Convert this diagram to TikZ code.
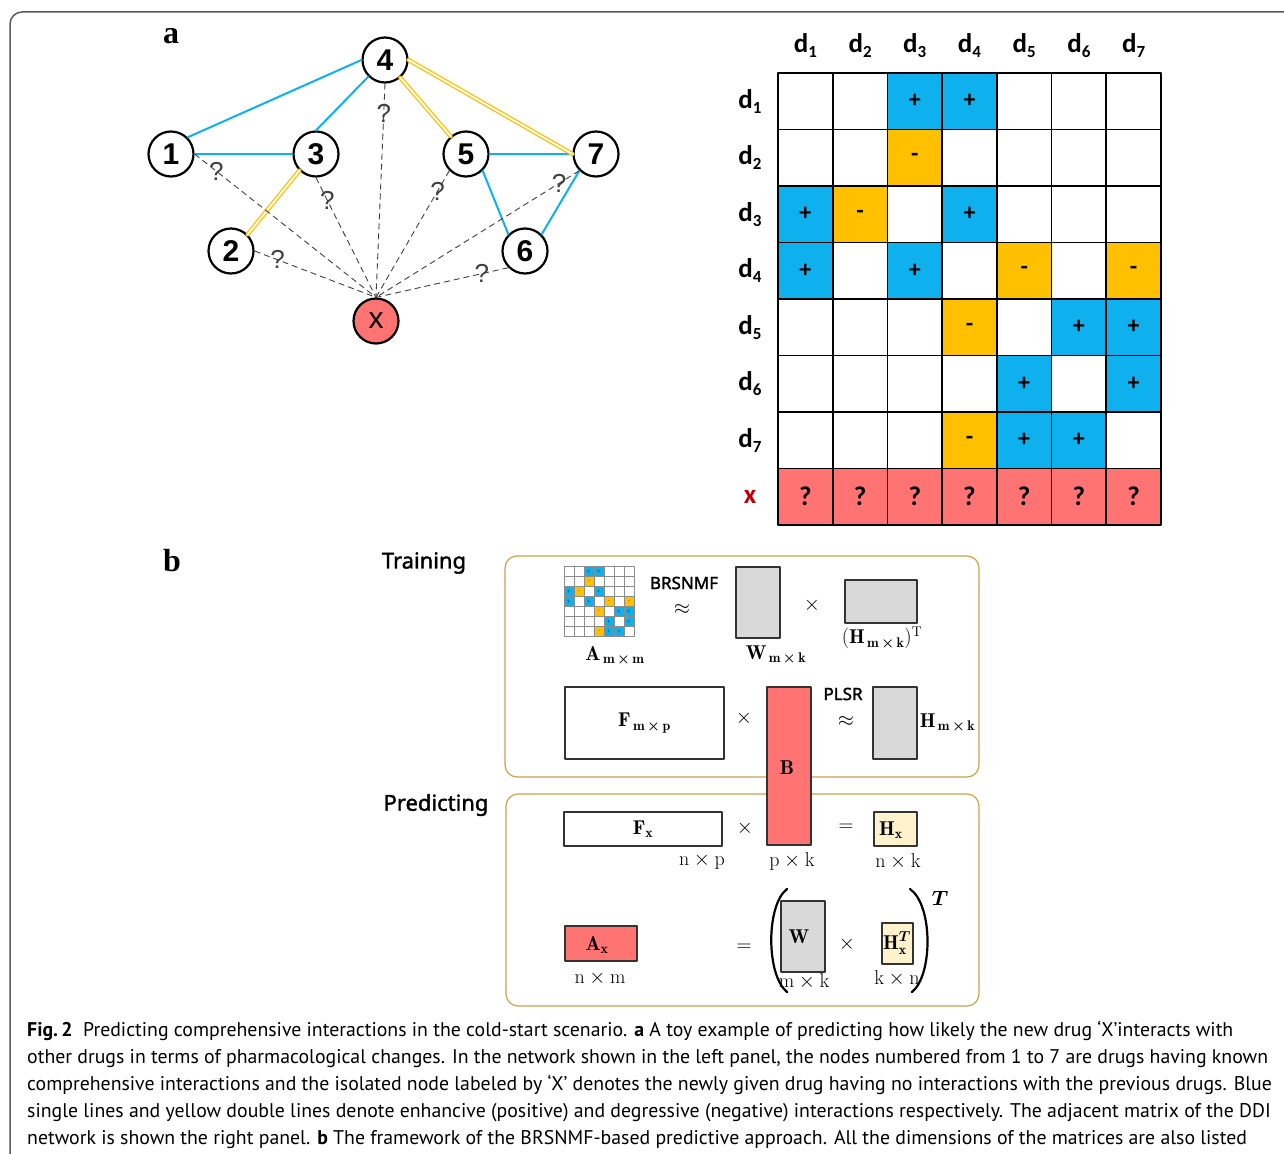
\documentclass[tikz,border=0pt]{standalone}
\usepackage{fontspec}
\usepackage{amsmath}
\usetikzlibrary{positioning}
\newfontfamily\calibri{Carlito}
\newfontfamily\arialf{Liberation Sans}
\newfontfamily\timesf{Liberation Serif}
\newfontfamily\capfont{PT Sans}
\newfontfamily\labfont{Noto Sans}[FakeBold=1.6]
\definecolor{ddiblue}{HTML}{0EB1EE}
\definecolor{ddiyellow}{HTML}{FFC000}
\definecolor{ddired}{HTML}{FF7373}
\definecolor{matgray}{HTML}{D9D9D9}
\definecolor{hxyellow}{HTML}{FFF2CC}
\definecolor{boxgold}{HTML}{C9A24C}
\definecolor{xred}{HTML}{C00000}
\newcommand{\fs}[1]{\fontsize{#1}{#1}\selectfont}
\newcommand{\dlab}[1]{d\raisebox{-5pt}{\fs{17}#1}}
\newcommand{\msub}[3]{$\mathbf{#1}_{\,\mathbf{#2}\,\boldsymbol{\times}\,\mathbf{#3}}$}

\begin{document}
\begin{tikzpicture}[x=1pt, y=-1pt, line join=round, line cap=round,
	drug/.style={circle, draw, line width=2.2pt, minimum size=45pt, inner sep=0pt, font=\arialf\bfseries\fs{30}},
	pos edge/.style={ddiblue, line width=2pt},
	neg edge/.style={draw=ddiyellow, double=white, double distance=1.8pt, line width=1.3pt},
	unknown/.style={dash pattern=on 6pt off 4pt, draw=black!75, line width=0.9pt, line cap=butt},
	qmark/.style={font=\arialf\fs{26}, text=black!75, inner sep=0pt},
	cell/.style={draw, line width=1.6pt, minimum width=54.7pt, minimum height=56.5pt, inner sep=0pt, font=\calibri\bfseries\fs{24}},
	tiny cell/.style={draw=black!45, line width=0.6pt, minimum size=10pt, inner sep=0pt, font=\fs{4}},
	stagebox/.style={draw=boxgold, line width=1.2pt, rounded corners=12pt},
	matbox/.style={draw=black!80, line width=1.4pt, inner sep=0pt, font=\fs{20}},
	mlab/.style={font=\fs{20}, inner sep=0pt},
	slab/.style={font=\labfont\fs{17}, inner sep=0pt},
	panel/.style={font=\timesf\bfseries\fs{32}}]
	\useasboundingbox (0,0) rectangle (1284,1153);
	\draw[black!65, line width=1.5pt, rounded corners=12pt] (1300,12) -- (10,12) -- (10,1170);

	% panel a: the network
	\node[panel] (lab-a) at (171,36) {a};
	\node[drug] (n4) at (385,60) {4};
	\node[drug] (n1) at (171,154) {1};
	\node[drug] (n3) at (316,154) {3};
	\node[drug] (n5) at (466,154) {5};
	\node[drug] (n7) at (596,154) {7};
	\node[drug] (n2) at (231,251) {2};
	\node[drug] (n6) at (525,251) {6};
	\node[drug, fill=ddired, font=\arialf\fs{30}] (nx) at (376,321) {x};
	\draw[pos edge] (n1.north east) -- (n4.west);
	\draw[pos edge] (n3.north) -- (n4.south west);
	\draw[pos edge] (n1.east) -- (n3.west);
	\draw[pos edge] (n5.east) -- (n7.west);
	\draw[pos edge] (n5.south east) -- (n6.north west);
	\draw[pos edge] (n7.south west) -- (n6.north east);
	\draw[neg edge] (n4) -- (n5);
	\draw[neg edge] (n4.east) -- (n7.west);
	\draw[neg edge] (n3.south west) -- (n2.north east);
	\foreach \from/\p in {n1.east/0.12, n2.east/0.19, n3.south/0.19, n4.south/0.14, n5.south west/0.16, n6.south west/0.2, n7.south west/0.1}
	\draw[unknown] (\from) -- (nx.north) node[qmark, pos=\p] {?};

	% adjacency matrix
	\foreach \c in {1,...,7}
	\node[font=\calibri\bfseries\fs{27}] (col\c) at ({778+(\c-0.5)*54.71},46) {\dlab{\c}};
	\foreach \r in {1,...,7}
	\node[font=\calibri\bfseries\fs{27}] (row\r) at (750,{73+(\r-0.5)*56.5}) {\dlab{\r}};
	\node[font=\calibri\bfseries\fs{27}, text=xred] (rowx) at (750,{73+7.5*56.5}) {x};
	\foreach \r in {1,...,7}
	\foreach \c in {1,...,7}
	\node[cell, fill=white] (c-\r-\c) at ({778+(\c-0.5)*54.71},{73+(\r-0.5)*56.5}) {};
	\foreach \r/\c in {1/3,1/4,3/1,3/4,4/1,4/3,5/6,5/7,6/5,6/7,7/5,7/6}
	\node[cell, fill=ddiblue] at (c-\r-\c) {+};
	\foreach \r/\c in {2/3,3/2,4/5,4/7,5/4,7/4}
	\node[cell, fill=ddiyellow] at (c-\r-\c) {-};
	\foreach \c in {1,...,7}
	\node[cell, fill=ddired, font=\calibri\bfseries\fs{27}] (cx-\c) at ({778+(\c-0.5)*54.71},{73+7.5*56.5}) {?};

	% panel b: training and predicting
	\node[panel] (lab-b) at (172,561) {b};
	\node[font=\labfont\fs{22}] (training) at (424,563) {Training};
	\node[font=\labfont\fs{22}] (predicting) at (436,805) {Predicting};
	\node[stagebox, minimum width=474pt, minimum height=221pt] (train) at (742,666.5) {};
	\node[stagebox, minimum width=473pt, minimum height=212pt] (pred) at (742.5,900) {};

	\foreach \r in {1,...,7}
	\foreach \c in {1,...,7}
	\node[tiny cell, fill=white] (t-\r-\c) at ({564+(\c-0.5)*10},{566+(\r-0.5)*10}) {};
	\foreach \r/\c in {1/3,1/4,3/1,3/4,4/1,4/3,5/6,5/7,6/5,6/7,7/5,7/6}
	\node[tiny cell, fill=ddiblue] at (t-\r-\c) {+};
	\foreach \r/\c in {2/3,3/2,4/5,4/7,5/4,7/4}
	\node[tiny cell, fill=ddiyellow] at (t-\r-\c) {-};
	\node[mlab] (A) at (615,656) {\msub{A}{m}{m}};

	\node[slab] (brsnmf) at (684,583) {BRSNMF};
	\node[mlab] (approx1) at (682,609) {$\approx$};
	\node[matbox, fill=matgray, minimum width=44pt, minimum height=71pt] (W) at (758,602.5) {};
	\node[mlab] (Wlab) at (776,655) {\msub{W}{m}{k}};
	\node[mlab] (times1) at (812,605) {$\times$};
	\node[matbox, fill=matgray, minimum width=72pt, minimum height=43pt] (Ht) at (881,601.5) {};
	\node[mlab] (Htlab) at (882,638) {$(\mathbf{H}_{\,\mathbf{m}\,\boldsymbol{\times}\,\mathbf{k}})^{\mathrm{T}}$};

	\node[matbox, fill=white, minimum width=159pt, minimum height=72pt] (F) at (644.5,723) {\msub{F}{m}{p}};
	\node[mlab] (times2) at (744,718) {$\times$};
	\node[slab] (plsr) at (843,694) {PLSR};
	\node[mlab] (approx2) at (846,721) {$\approx$};
	\node[matbox, fill=matgray, minimum width=44pt, minimum height=72pt] (H) at (895,723) {};
	\node[mlab, right=2pt of H.east] (Hlab) {\msub{H}{m}{k}};

	\node[matbox, fill=white, minimum width=158pt, minimum height=34pt] (Fx) at (643,829) {$\mathbf{F}_{\mathbf{x}}$};
	\node[mlab] (dimFx) at (702,861) {$\mathrm{n\times p}$};
	\node[mlab] (times3) at (745,828) {$\times$};
	\node[matbox, fill=ddired, minimum width=44pt, minimum height=158pt] (B) at (789,766) {};
	\node[mlab] (Blab) at (787,768) {$\mathbf{B}$};
	\node[mlab] (dimB) at (792,861) {$\mathrm{p\times k}$};
	\node[mlab] (eq1) at (846,828) {$=$};
	\node[matbox, fill=hxyellow, minimum width=43pt, minimum height=34pt] (Hx) at (895.5,829) {};
	\node[mlab] (Hxlab) at (891,830) {$\mathbf{H}_{\mathbf{x}}$};
	\node[mlab] (dimHx) at (898,861) {$\mathrm{n\times k}$};

	\node[matbox, fill=ddired, minimum width=72pt, minimum height=35pt] (Ax) at (601,943.5) {};
	\node[mlab] (Axlab) at (597,945) {$\mathbf{A}_{\mathbf{x}}$};
	\node[mlab] (dimAx) at (600,978) {$\mathrm{n\times m}$};
	\node[mlab] (eq2) at (744,948) {$=$};
	\draw[line width=2.2pt] (787,889) .. controls (766,905) and (766,975) .. (787,992);
	\draw[line width=2.2pt] (910,889) .. controls (933,905) and (933,975) .. (912,992);
	\node[mlab] (Tsup) at (940,898) {$\boldsymbol{T}$};
	\node[matbox, fill=matgray, minimum width=44pt, minimum height=71pt] (W2) at (803,936.5) {};
	\node[mlab] (W2lab) at (799,937) {$\mathbf{W}$};
	\node[mlab] (dimW2) at (804,981) {$\mathrm{m\times k}$};
	\node[mlab] (times4) at (847,944) {$\times$};
	\node[matbox, fill=hxyellow, minimum width=31pt, minimum height=41pt] (HxT) at (897.5,943.5) {};
	\node[mlab] (HxTlab) at (897,943) {$\mathbf{H}_{\mathbf{x}}^{\boldsymbol{T}}$};
	\node[mlab] (dimHxT) at (897,978) {$\mathrm{k\times n}$};

	% caption
	\foreach \y/\txt in {
		1036/{{\bfseries Fig.\,2}\ \ Predicting comprehensive interactions in the cold-start scenario. {\bfseries a} A toy example of predicting how likely the new drug ‘X’interacts with},
		1063/{other drugs in terms of pharmacological changes. In the network shown in the left panel, the nodes numbered from 1 to 7 are drugs having known},
		1090/{comprehensive interactions and the isolated node labeled by ‘X’ denotes the newly given drug having no interactions with the previous drugs. Blue},
		1117/{single lines and yellow double lines denote enhancive (positive) and degressive (negative) interactions respectively. The adjacent matrix of the DDI},
		1144/{network is shown the right panel. {\bfseries b} The framework of the BRSNMF-based predictive approach. All the dimensions of the matrices are also listed}}
	\node[anchor=base west, inner sep=0pt, font=\capfont\fs{19.8}] at (27,\y) {\txt};
\end{tikzpicture}
\end{document}
